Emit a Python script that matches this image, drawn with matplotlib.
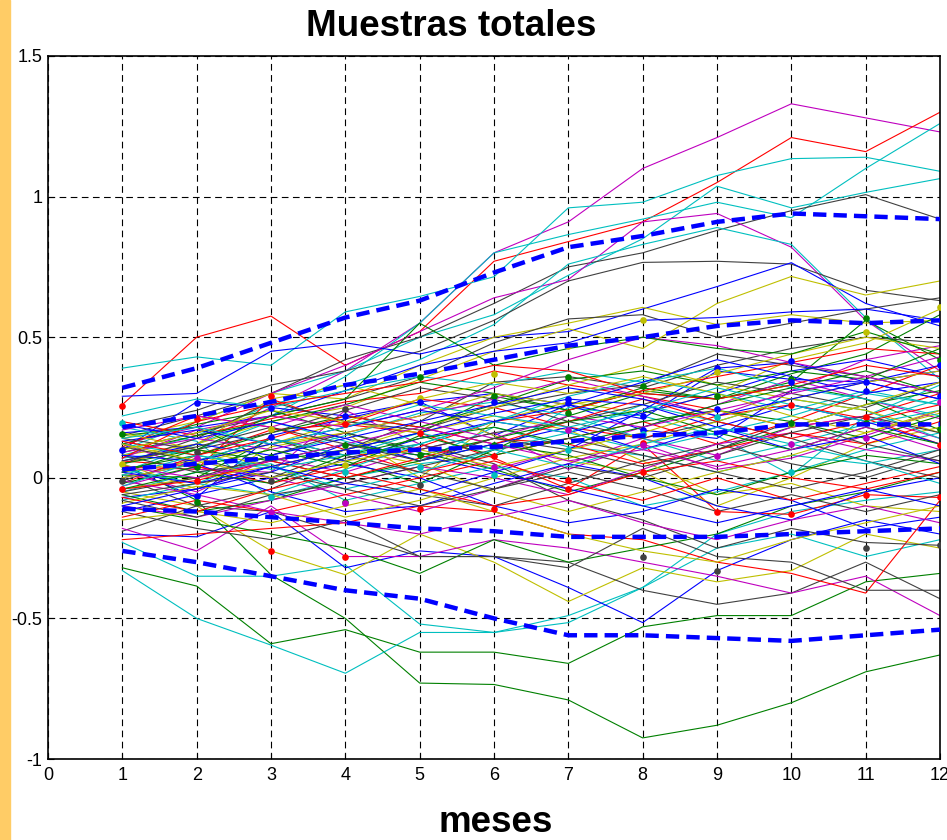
import numpy as np
import matplotlib
matplotlib.use("Agg")
import matplotlib.pyplot as plt
from matplotlib.patches import Rectangle

plt.rcParams['font.family'] = ['Liberation Sans', 'DejaVu Sans']

meses = list(range(1, 13))

# muestras individuales (una fila por serie)
series = [
    [0.05, 0.12, 0.25, 0.38, 0.55, 0.80, 0.91, 1.10, 1.21, 1.33, 1.28, 1.23],
    [0.26, 0.50, 0.575, 0.40, 0.52, 0.77, 0.84, 0.91, 1.05, 1.21, 1.16, 1.30],
    [0.39, 0.43, 0.40, 0.59, 0.645, 0.715, 0.96, 0.98, 1.075, 1.135, 1.14, 1.09],
    [0.10, 0.20, 0.30, 0.38, 0.50, 0.58, 0.72, 0.85, 1.037, 0.96, 1.015, 1.064],
    [0.02, 0.12, 0.22, 0.36, 0.55, 0.80, 0.865, 0.92, 0.98, 0.925, 1.10, 1.26],
    [0.15, 0.22, 0.30, 0.42, 0.50, 0.62, 0.75, 0.80, 0.88, 0.95, 1.007, 0.92],
    [0.12, 0.18, 0.30, 0.40, 0.52, 0.64, 0.705, 0.91, 0.94, 0.82, 0.56, 0.38],
    [0.08, 0.15, 0.26, 0.33, 0.42, 0.545, 0.76, 0.83, 0.89, 0.83, 0.57, 0.35],
    [0.18, 0.24, 0.33, 0.38, 0.45, 0.56, 0.70, 0.766, 0.77, 0.76, 0.667, 0.63],
    [0.29, 0.30, 0.45, 0.48, 0.44, 0.50, 0.52, 0.60, 0.68, 0.765, 0.62, 0.54],
    [0.05, 0.12, 0.20, 0.25, 0.35, 0.45, 0.53, 0.46, 0.62, 0.716, 0.65, 0.70],
    [0.14, 0.20, 0.30, 0.28, 0.40, 0.50, 0.55, 0.606, 0.545, 0.58, 0.55, 0.56],
    [0.10, 0.16, 0.22, 0.28, 0.36, 0.48, 0.565, 0.58, 0.50, 0.55, 0.60, 0.64],
    [0.16, 0.18, 0.22, 0.31, 0.40, 0.45, 0.48, 0.56, 0.57, 0.59, 0.60, 0.56],
    [-0.32, -0.385, -0.59, -0.54, -0.62, -0.62, -0.66, -0.53, -0.49, -0.49, -0.37, -0.34],
    [0.05, -0.08, -0.345, -0.50, -0.73, -0.735, -0.79, -0.925, -0.88, -0.80, -0.69, -0.63],
    [-0.33, -0.50, -0.595, -0.695, -0.55, -0.55, -0.49, -0.39, -0.25, -0.20, -0.28, -0.22],
    [-0.23, -0.35, -0.35, -0.31, -0.52, -0.55, -0.515, -0.39, -0.20, -0.12, -0.08, -0.05],
    [-0.20, -0.21, -0.12, -0.32, -0.26, -0.28, -0.39, -0.515, -0.33, -0.22, -0.15, -0.20],
    [-0.05, -0.10, -0.26, -0.345, -0.20, -0.30, -0.44, -0.32, -0.37, -0.33, -0.20, -0.25],
    [-0.19, -0.10, -0.12, -0.20, -0.28, -0.28, -0.30, -0.40, -0.45, -0.41, -0.30, -0.43],
    [-0.18, -0.26, -0.10, -0.28, -0.28, -0.22, -0.25, -0.30, -0.35, -0.41, -0.35, -0.49],
    [-0.22, -0.20, -0.18, -0.16, -0.10, -0.12, -0.20, -0.22, -0.30, -0.34, -0.41, -0.08],
    [-0.10, -0.15, -0.20, -0.25, -0.34, -0.22, -0.30, -0.25, -0.20, -0.10, -0.05, 0.02],
    [-0.12, -0.18, -0.22, -0.15, -0.28, -0.28, -0.32, -0.18, -0.28, -0.30, -0.40, -0.40],
    [0.10, 0.27, 0.25, 0.22, 0.27, 0.30, 0.26, 0.21, 0.38, 0.35, 0.34, 0.28],
    [0.15, 0.18, 0.06, 0.10, 0.16, 0.29, 0.24, 0.31, 0.28, 0.34, 0.56, 0.42],
    [0.04, 0.03, 0.28, 0.19, 0.16, 0.07, -0.04, 0.12, -0.12, -0.13, -0.06, -0.07],
    [0.18, 0.13, -0.07, 0.00, 0.05, 0.08, 0.25, 0.22, 0.15, 0.01, 0.22, 0.33],
    [0.12, 0.03, 0.02, 0.24, 0.12, 0.03, 0.10, 0.18, 0.26, 0.35, 0.28, 0.21],
    [0.05, -0.04, 0.11, 0.16, 0.00, 0.20, 0.27, 0.23, 0.30, 0.42, 0.48, 0.60],
    [-0.01, 0.07, 0.00, 0.10, 0.20, 0.34, 0.36, 0.32, 0.40, 0.46, 0.50, 0.48],
    [0.04, -0.07, 0.15, 0.21, 0.27, 0.15, 0.26, 0.17, 0.14, 0.31, 0.34, 0.40],
    [0.01, 0.00, 0.14, 0.06, -0.02, 0.10, 0.22, 0.30, 0.28, 0.33, 0.28, 0.17],
    [-0.02, 0.08, 0.17, 0.19, 0.28, 0.25, 0.18, 0.14, 0.22, 0.26, 0.21, 0.12],
    [0.07, 0.10, 0.20, 0.13, 0.06, 0.18, 0.11, 0.08, 0.02, 0.08, 0.05, 0.10],
    [0.02, -0.05, 0.07, 0.02, 0.10, 0.16, 0.03, 0.12, 0.03, 0.07, 0.15, 0.24],
    [0.08, 0.12, 0.28, 0.33, 0.26, 0.15, 0.06, 0.02, -0.10, 0.00, 0.12, 0.18],
    [0.00, -0.10, -0.04, 0.07, 0.12, 0.05, -0.08, -0.15, -0.25, -0.18, -0.23, -0.24],
    [-0.07, -0.04, 0.02, 0.12, 0.08, 0.02, 0.10, 0.24, 0.39, 0.41, 0.34, 0.38],
    [0.12, 0.19, 0.24, 0.16, 0.09, 0.03, -0.05, 0.02, 0.10, 0.18, 0.26, 0.31],
    [0.20, 0.15, 0.21, 0.27, 0.30, 0.38, 0.33, 0.29, 0.24, 0.18, 0.22, 0.30],
    [-0.05, 0.02, 0.05, -0.08, -0.02, 0.04, 0.00, -0.10, -0.05, 0.02, 0.10, 0.16],
    [-0.03, 0.04, 0.00, -0.06, -0.12, -0.04, 0.05, 0.14, 0.08, 0.18, 0.22, 0.14],
    [0.02, 0.06, 0.12, 0.20, 0.16, 0.22, 0.17, 0.06, -0.06, -0.02, -0.10, -0.12],
    [0.05, 0.14, 0.27, 0.20, 0.17, 0.25, 0.30, 0.33, 0.44, 0.40, 0.36, 0.30],
    [0.00, 0.05, -0.05, -0.12, -0.10, -0.02, 0.05, 0.00, -0.10, -0.15, -0.05, 0.00],
    [0.09, 0.15, 0.20, 0.26, 0.34, 0.30, 0.24, 0.32, 0.28, 0.37, 0.44, 0.58],
    [0.06, 0.04, -0.02, 0.04, 0.11, 0.20, 0.24, 0.31, 0.36, 0.41, 0.46, 0.44],
    [-0.08, -0.02, 0.08, 0.15, 0.23, 0.27, 0.22, 0.14, 0.06, 0.12, 0.19, 0.24],
    [0.07, 0.17, 0.22, 0.18, 0.24, 0.32, 0.42, 0.50, 0.47, 0.41, 0.36, 0.43],
    [-0.04, 0.00, 0.04, 0.10, 0.05, -0.05, -0.12, -0.05, 0.02, 0.08, 0.16, 0.23],
    [0.08, 0.02, 0.06, 0.00, -0.06, -0.10, -0.02, 0.06, 0.12, 0.05, 0.00, 0.08],
    [0.13, 0.17, 0.12, 0.06, 0.14, 0.20, 0.16, 0.23, 0.30, 0.38, 0.42, 0.36],
    [-0.06, -0.12, -0.08, 0.00, 0.06, 0.12, 0.08, 0.00, -0.06, 0.02, 0.08, 0.05],
    [0.11, 0.22, 0.18, 0.10, 0.02, 0.08, 0.14, 0.20, 0.12, 0.20, 0.30, 0.40],
    [0.03, -0.02, -0.06, 0.03, 0.12, 0.20, 0.29, 0.35, 0.30, 0.24, 0.31, 0.26],
    [-0.10, -0.14, -0.08, -0.02, 0.04, 0.00, -0.06, 0.03, 0.12, 0.16, 0.10, 0.06],
    [0.16, 0.10, 0.04, 0.10, 0.18, 0.25, 0.33, 0.40, 0.33, 0.28, 0.34, 0.38],
    [-0.05, 0.00, 0.08, 0.16, 0.10, 0.16, 0.20, 0.14, 0.20, 0.14, 0.06, 0.00],
    [-0.12, -0.06, 0.00, 0.05, 0.00, -0.10, -0.16, -0.12, -0.04, -0.08, -0.18, -0.14],
    [0.03, 0.08, 0.16, 0.22, 0.18, 0.26, 0.35, 0.38, 0.33, 0.38, 0.35, 0.46],
    [-0.04, -0.01, 0.06, 0.00, 0.07, 0.14, 0.12, 0.05, 0.10, 0.16, 0.12, 0.20],
    [0.12, 0.08, 0.03, 0.08, 0.16, 0.10, 0.16, 0.26, 0.20, 0.28, 0.24, 0.14],
    [0.09, 0.14, 0.10, 0.16, 0.22, 0.28, 0.35, 0.29, 0.22, 0.31, 0.42, 0.47],
    [-0.09, -0.03, -0.06, -0.14, -0.08, 0.00, 0.07, 0.12, 0.20, 0.28, 0.24, 0.16],
    [0.14, 0.10, 0.16, 0.24, 0.32, 0.28, 0.20, 0.26, 0.34, 0.30, 0.25, 0.34],
    [0.06, 0.12, 0.08, 0.14, 0.06, 0.12, 0.18, 0.10, 0.18, 0.26, 0.20, 0.12],
    [-0.02, 0.04, 0.10, 0.04, 0.15, 0.08, 0.14, 0.20, 0.24, 0.20, 0.14, 0.22],
    [-0.14, -0.08, -0.12, -0.06, 0.00, 0.06, -0.02, -0.08, 0.00, -0.08, -0.02, 0.04],
    [0.22, 0.28, 0.25, 0.31, 0.36, 0.33, 0.38, 0.34, 0.39, 0.32, 0.28, 0.22],
    [-0.01, -0.06, -0.12, -0.16, -0.20, -0.14, -0.08, -0.16, -0.22, -0.15, -0.10, -0.16],
    [0.00, 0.05, 0.12, 0.16, 0.22, 0.30, 0.26, 0.30, 0.37, 0.44, 0.50, 0.46],
    [-0.08, -0.14, -0.06, -0.02, 0.04, 0.10, 0.14, 0.08, 0.02, -0.04, 0.02, 0.10],
    [0.05, 0.10, 0.22, 0.28, 0.55, 0.40, 0.46, 0.50, 0.46, 0.44, 0.52, 0.44],
    [0.07, 0.20, 0.26, 0.30, 0.34, 0.40, 0.38, 0.30, 0.28, 0.33, 0.40, 0.36],
    [0.02, -0.02, 0.04, 0.10, 0.16, 0.23, 0.28, 0.26, 0.18, 0.10, 0.15, 0.05],
    [-0.15, -0.12, -0.16, -0.10, -0.04, -0.12, -0.20, -0.26, -0.30, -0.22, -0.16, -0.10],
    [0.11, 0.06, 0.14, 0.08, 0.02, -0.04, 0.04, 0.00, 0.08, 0.16, 0.22, 0.16],
    [-0.03, 0.06, 0.14, 0.08, 0.12, 0.20, 0.16, 0.10, 0.16, 0.22, 0.30, 0.26],
    [0.08, 0.06, 0.12, 0.18, 0.24, 0.20, 0.26, 0.34, 0.42, 0.36, 0.30, 0.34],
    [-0.04, 0.02, -0.02, 0.08, 0.14, 0.18, 0.12, 0.18, 0.26, 0.32, 0.38, 0.30],
    [0.13, 0.08, 0.14, 0.22, 0.18, 0.12, 0.20, 0.28, 0.20, 0.14, 0.20, 0.26],
    [0.01, 0.08, 0.04, -0.04, 0.02, 0.10, 0.04, 0.12, 0.18, 0.12, 0.06, -0.02],
    [0.17, 0.22, 0.18, 0.26, 0.20, 0.14, 0.22, 0.18, 0.24, 0.30, 0.36, 0.30],
    [0.10, 0.16, 0.24, 0.20, 0.28, 0.34, 0.30, 0.36, 0.30, 0.22, 0.16, 0.24],
    [-0.06, -0.02, 0.02, -0.04, -0.10, -0.04, 0.02, -0.04, -0.12, -0.06, -0.12, -0.06],
    [0.19, 0.14, 0.20, 0.14, 0.20, 0.26, 0.32, 0.28, 0.22, 0.28, 0.34, 0.28],
    [0.02, 0.10, 0.06, 0.12, 0.08, 0.14, 0.20, 0.24, 0.16, 0.10, 0.18, 0.12],
    [-0.07, -0.12, -0.04, 0.02, -0.04, -0.10, -0.06, 0.02, 0.06, 0.00, -0.04, 0.02],
    [0.14, 0.18, 0.12, 0.18, 0.26, 0.22, 0.18, 0.24, 0.32, 0.26, 0.20, 0.28],
    [0.04, 0.00, 0.06, 0.12, 0.18, 0.12, 0.06, 0.10, 0.04, 0.10, 0.18, 0.10],
    [0.12, 0.06, 0.00, 0.06, 0.10, 0.04, 0.10, 0.16, 0.24, 0.18, 0.26, 0.34],
    [0.06, 0.11, 0.18, 0.12, 0.06, 0.14, 0.10, 0.04, 0.10, 0.20, 0.12, 0.06],
    [-0.10, -0.04, 0.04, -0.02, -0.06, 0.02, -0.04, -0.10, -0.16, -0.10, -0.04, -0.10],
]
series_col = ("mrccckmckbyykb" "ggccbykmrgkbgr" "cmykbgrcmykbgr" "cmykbgrcmykbgr"
              "cmykbgrcmykbgr" "cmykgrbykc" "bgrcmykbgrcmykb")

# percentiles (lineas azules discontinuas)
p_sup2 = [0.32, 0.39, 0.48, 0.57, 0.63, 0.73, 0.82, 0.86, 0.91, 0.94, 0.93, 0.92]
p_sup1 = [0.18, 0.22, 0.27, 0.33, 0.37, 0.42, 0.47, 0.50, 0.54, 0.56, 0.55, 0.56]
p_med = [0.03, 0.05, 0.07, 0.09, 0.10, 0.11, 0.13, 0.15, 0.16, 0.19, 0.19, 0.19]
p_inf1 = [-0.11, -0.12, -0.14, -0.16, -0.18, -0.19, -0.21, -0.21, -0.21, -0.20, -0.19, -0.18]
p_inf2 = [-0.26, -0.30, -0.35, -0.40, -0.43, -0.50, -0.56, -0.56, -0.57, -0.58, -0.56, -0.54]

# puntos observados
pt_mes = [1]*7 + [2]*8 + [3]*9 + [4]*9 + [5]*8 + [6]*8 + [7]*9 + [8]*9 + [9]*8 + [10]*8 + [11]*9 + [12]*9
pt_val = [0.256, 0.195, 0.155, 0.10, 0.05, -0.01, -0.04,
          0.265, 0.21, 0.09, 0.07, 0.04, -0.01, -0.065, -0.085,
          0.29, 0.25, 0.175, 0.145, 0.075, -0.01, -0.07, -0.12, -0.26,
          0.245, 0.22, 0.19, 0.115, 0.045, 0.02, -0.085, -0.09, -0.28,
          0.36, 0.285, 0.27, 0.16, 0.08, 0.037, -0.025, -0.11,
          0.37, 0.29, 0.27, 0.117, 0.076, 0.037, 0.01, -0.11,
          0.47, 0.36, 0.28, 0.265, 0.23, 0.17, 0.10, -0.007, -0.04,
          0.56, 0.325, 0.22, 0.17, 0.155, 0.125, 0.115, 0.02, -0.28,
          0.39, 0.375, 0.29, 0.245, 0.215, 0.076, -0.12, -0.33,
          0.416, 0.35, 0.34, 0.26, 0.195, 0.12, 0.022, -0.13,
          0.57, 0.52, 0.34, 0.31, 0.215, 0.195, 0.14, -0.06, -0.25,
          0.606, 0.42, 0.40, 0.29, 0.27, 0.175, 0.117, -0.07, -0.24]
pt_col = ("rcgbykr" "brkmgrbg" "rbybgkcmr" "kbrgycgmr" "gybrgckr" "ygbgrmcr"
          "ygbbgmcrr" "ygbbcrmrk" "bygbcmrk" "bgbrgmcr" "gybbrgmrk" "ygbbmgrrk")

colores = {'b': '#0000FF', 'g': '#008000', 'r': '#FF0000', 'c': '#00BFBF',
           'm': '#BF00BF', 'y': '#BFBF00', 'k': '#404040'}

fig = plt.figure(figsize=(9.47, 8.4), dpi=100)
fig.patches.append(Rectangle((0, 0), 10 / 947, 1, transform=fig.transFigure,
                             color='#FFCC66', zorder=0))
ax = fig.add_axes([48 / 947, 81 / 840, 892 / 947, 703 / 840])

for vals, c in zip(series, series_col):
    ax.plot(meses, vals, color=colores[c], lw=0.8, zorder=2)

for m, v, c in zip(pt_mes, pt_val, pt_col):
    ax.plot(m, v, 'o', color=colores[c], ms=4.8, mec='none', zorder=3)

for p in [p_sup2, p_sup1, p_med, p_inf1, p_inf2]:
    ax.plot(meses, p, color='#0000FF', lw=3.2, ls=(0, (3, 1.6)), zorder=4)

ax.set_xlim(0, 12)
ax.set_ylim(-1, 1.5)
ax.set_xticks(range(0, 13))
ax.set_yticks([-1, -0.5, 0, 0.5, 1, 1.5])
ax.set_yticklabels(['-1', '-0.5', '0', '0.5', '1', '1.5'])
ax.tick_params(direction='in', length=4, labelsize=13, pad=4, width=0.8)
ax.tick_params(axis='x', pad=6)
ax.grid(True, color='k', lw=0.8, ls=(0, (6, 4)), zorder=1)
ax.set_axisbelow(True)
for s in ax.spines.values():
    s.set_linewidth(1.2)

fig.text(451 / 947, 1 - 27 / 840, 'Muestras totales', fontsize=26.5,
         fontweight='bold', ha='center', va='center')
fig.text(496 / 947, 1 - 823 / 840, 'meses', fontsize=26.5,
         fontweight='bold', ha='center', va='center')

# etiqueta original tapada
fig.text(490 / 947, 1 - 798 / 840, 'meses', fontsize=10, color='#777777',
         ha='center', va='center')
fig.patches.append(Rectangle((0.3, 1 - 808 / 840), 0.4, 16 / 840,
                             transform=fig.transFigure, color='white', zorder=5))

fig.savefig('out.png', dpi=100)
